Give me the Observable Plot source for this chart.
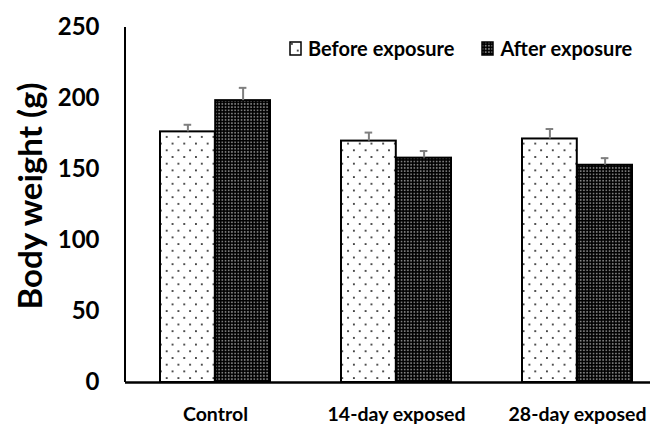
<!DOCTYPE html>
<html>
<head>
<meta charset="utf-8">
<script src="https://cdn.jsdelivr.net/npm/d3@7"></script>
<script src="https://cdn.jsdelivr.net/npm/@observablehq/plot@0.6"></script>
<style>
  body { margin: 0; background: #fff; }
  #wrap { position: relative; width: 650px; height: 426px; overflow: hidden; font-family: Lato, "Open Sans", sans-serif; font-weight: bold; }
  #legend { position: absolute; top: 36px; left: 289px; display: flex; align-items: center; font-size: 20px; color: #000; white-space: nowrap; }
  #legend .item { display: flex; align-items: center; }
  #legend svg { margin-right: 6px; }
  #ylabel { position: absolute; left: 29px; top: 196px; transform: translate(-50%, -50%) rotate(-90deg); font-size: 33px; white-space: nowrap; color: #000; }
</style>
</head>
<body>
<svg width="0" height="0" style="position:absolute">
  <defs>
    <pattern id="dotsLight" width="11.7" height="13.4" patternUnits="userSpaceOnUse">
      <rect width="11.7" height="13.4" fill="#fff"/>
      <rect x="2" y="2" width="1.8" height="1.8" fill="#333"/>
      <rect x="7.85" y="8.7" width="1.8" height="1.8" fill="#333"/>
    </pattern>
    <pattern id="dotsDark" width="3.2" height="3.2" patternUnits="userSpaceOnUse">
      <rect width="3.2" height="3.2" fill="#000"/>
      <rect x="0.7" y="0.7" width="1.6" height="1.6" fill="#8a8a8a"/>
    </pattern>
  </defs>
</svg>
<div id="wrap">
  <div id="ylabel">Body weight (g)</div>
  <div id="legend"></div>
</div>
<script>
const categories = ["Control", "14-day exposed", "28-day exposed"];
const series = ["Before exposure", "After exposure"];
const beforeValues = [176.5, 170, 171.5];
const afterValues = [198.5, 158, 153];
const beforeErrors = [5, 6, 7];
const afterErrors = [9, 5, 5];
const yTicks = [0, 50, 100, 150, 200, 250];
const seriesFill = {"Before exposure": "url(#dotsLight)", "After exposure": "url(#dotsDark)"};

const beforeRows = categories.map((c, i) => ({category: c, value: beforeValues[i], err: beforeErrors[i]}));
const afterRows = categories.map((c, i) => ({category: c, value: afterValues[i], err: afterErrors[i]}));

const W = 650, H = 426, ML = 125, MR = -18, MT = 27, MB = 44;
const PAD_IN = 0.39, PAD_OUT = 0.195;
// same band scale as the chart's x, used to split each band into two side-by-side bars
const band = d3.scaleBand(categories, [ML, W - MR]).paddingInner(PAD_IN).paddingOuter(PAD_OUT);
const bw = band.bandwidth();
const half = bw / 2, quarter = bw / 4, cap = 4;
// distance from the plot's left edge to the centre of the first band (for the y-axis line)
const leftOffset = band(categories[0]) - ML + half;
const errStyle = {stroke: "#7f7f7f", strokeWidth: 2};

const chart = Plot.plot({
  width: W, height: H,
  marginLeft: ML, marginRight: MR, marginTop: MT, marginBottom: MB,
  style: {fontFamily: 'Lato, "Open Sans", sans-serif', fontWeight: "bold", color: "#000", background: "transparent", overflow: "visible"},
  x: {domain: categories, paddingInner: PAD_IN, paddingOuter: PAD_OUT, label: null},
  y: {domain: [0, 250], label: null},
  marks: [
    Plot.axisY({ticks: yTicks, tickSize: 0, tickPadding: 26, fontSize: 24, label: null}),
    Plot.axisX({tickSize: 0, tickPadding: 25, fontSize: 19.5, label: null}),
    Plot.barY(beforeRows, {x: "category", y: "value", fill: seriesFill[series[0]], stroke: "#000", strokeWidth: 2, insetRight: half}),
    Plot.barY(afterRows, {x: "category", y: "value", fill: seriesFill[series[1]], stroke: "#000", strokeWidth: 2, insetLeft: half}),
    Plot.ruleX(beforeRows, {x: "category", y1: "value", y2: d => d.value + d.err, dx: -quarter, ...errStyle}),
    Plot.ruleX(afterRows, {x: "category", y1: "value", y2: d => d.value + d.err, dx: quarter, ...errStyle}),
    Plot.tickY(beforeRows, {x: "category", y: d => d.value + d.err, insetLeft: quarter - cap, insetRight: 3 * quarter - cap, ...errStyle}),
    Plot.tickY(afterRows, {x: "category", y: d => d.value + d.err, insetLeft: 3 * quarter - cap, insetRight: quarter - cap, ...errStyle}),
    Plot.ruleY([0], {stroke: "#000", strokeWidth: 2.5}),
    Plot.ruleX([categories[0]], {y1: yTicks[0], y2: yTicks[yTicks.length - 1], dx: -leftOffset, stroke: "#000", strokeWidth: 2})
  ]
});

document.getElementById("wrap").prepend(chart);

const legend = d3.select("#legend");
series.forEach((s, i) => {
  const item = legend.append("div").attr("class", "item").style("margin-right", i === 0 ? "27px" : "0");
  const sw = item.append("svg").attr("width", 13).attr("height", 15);
  sw.append("rect").attr("x", 1).attr("y", 1).attr("width", 11).attr("height", 13)
    .attr("fill", seriesFill[s]).attr("stroke", "#000").attr("stroke-width", 1.5);
  item.append("span").text(s);
});
</script>
</body>
</html>
